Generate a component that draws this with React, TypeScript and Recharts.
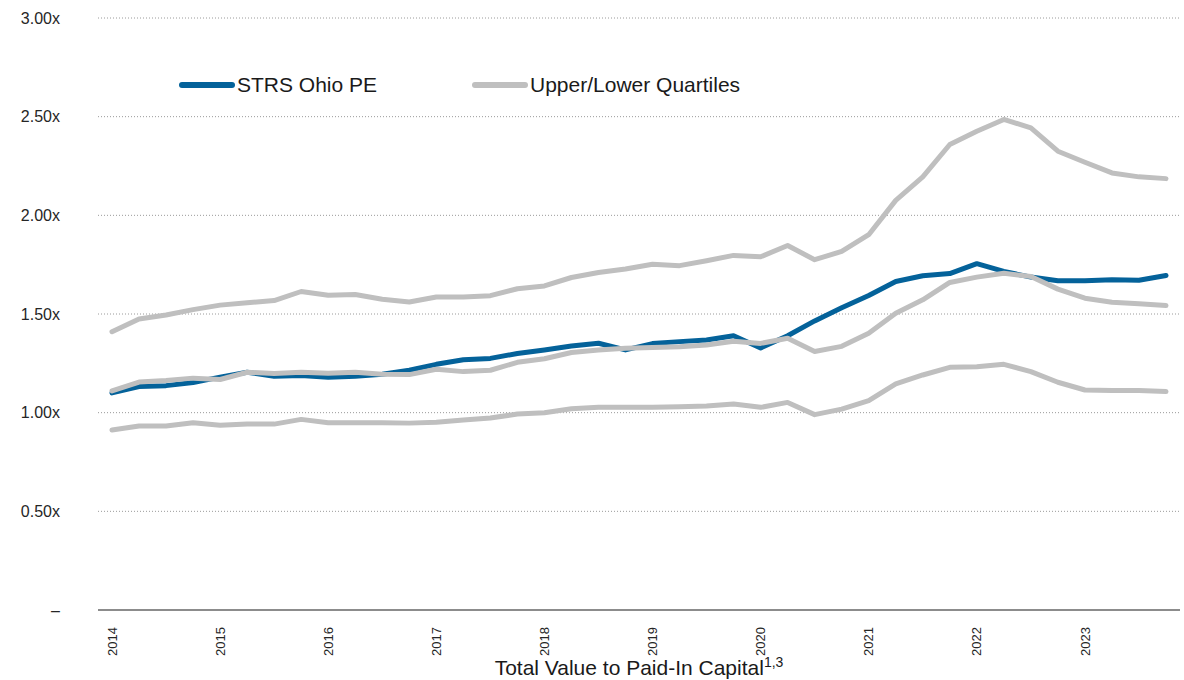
import { LineChart, Line, XAxis, YAxis, CartesianGrid, Legend } from "recharts";

const years = ["2014", "2015", "2016", "2017", "2018", "2019", "2020", "2021", "2022", "2023"];
const quarters = ["Q1", "Q2", "Q3", "Q4"];
const periods = years.flatMap((y) => quarters.map((q) => `${y} ${q}`));

const strsOhioPE = [
  1.1, 1.132, 1.137, 1.153, 1.18, 1.205, 1.185, 1.188, 1.18, 1.185,
  1.195, 1.215, 1.245, 1.268, 1.275, 1.3, 1.318, 1.338, 1.352, 1.318,
  1.35, 1.36, 1.368, 1.39, 1.328, 1.39, 1.465, 1.532, 1.594, 1.665,
  1.694, 1.705, 1.755, 1.716, 1.687, 1.668, 1.668, 1.674, 1.671, 1.695,
];

const upperQuartile = [
  1.41, 1.475, 1.495, 1.522, 1.545, 1.557, 1.568, 1.614, 1.595, 1.599,
  1.575, 1.561, 1.586, 1.586, 1.593, 1.628, 1.642, 1.685, 1.71, 1.728,
  1.752, 1.745, 1.77, 1.797, 1.79, 1.847, 1.775, 1.817, 1.902, 2.076,
  2.195, 2.359, 2.426, 2.486, 2.443, 2.325, 2.269, 2.215, 2.195, 2.186,
];

const medianLine = [
  1.11, 1.155, 1.163, 1.175, 1.168, 1.205, 1.198, 1.205, 1.2, 1.205,
  1.195, 1.193, 1.22, 1.208, 1.215, 1.255, 1.273, 1.305, 1.317, 1.326,
  1.33, 1.334, 1.343, 1.362, 1.351, 1.377, 1.31, 1.336, 1.403, 1.504,
  1.572, 1.66, 1.687, 1.707, 1.69, 1.626, 1.58, 1.56, 1.552, 1.543,
];

const lowerQuartile = [
  0.912, 0.932, 0.932, 0.949, 0.936, 0.942, 0.942, 0.966, 0.949, 0.949,
  0.949, 0.947, 0.951, 0.963, 0.973, 0.993, 1.0, 1.02, 1.027, 1.027,
  1.027, 1.03, 1.034, 1.044, 1.027, 1.052, 0.99, 1.018, 1.061, 1.146,
  1.191, 1.23, 1.233, 1.245, 1.208, 1.154, 1.115, 1.112, 1.112, 1.107,
];

const yTicks = [0, 0.5, 1, 1.5, 2, 2.5, 3];

const BLUE = "#04629A";
const GRAY = "#BFBFBF";
const FONT = "'Liberation Sans', Arial, sans-serif";

const legendItems = [
  { label: "STRS Ohio PE", color: BLUE, left: 0 },
  { label: "Upper/Lower Quartiles", color: GRAY, left: 293 },
];

const data = periods.map((p, i) => ({
  period: p,
  strs: strsOhioPE[i],
  upper: upperQuartile[i],
  mid: medianLine[i],
  lower: lowerQuartile[i],
}));

const YearTick = (props: any) => {
  const { x, y, payload } = props;
  const ty = y + 9;
  return (
    <text
      x={x}
      y={ty}
      dy="0.36em"
      transform={`rotate(-90, ${x}, ${ty})`}
      textAnchor="end"
      fontSize={13}
      fontFamily={FONT}
      fill="#262626"
    >
      {String(payload.value).slice(0, 4)}
    </text>
  );
};

const AxisTitle = (props: any) => {
  const { viewBox } = props;
  const cx = viewBox.x + viewBox.width / 2;
  return (
    <text x={cx} y={viewBox.y + 65} textAnchor="middle" fontFamily={FONT} fill="#1a1a1a">
      <tspan fontSize={21}>Total Value to Paid-In Capital</tspan>
      <tspan fontSize={14} dy={-8}>
        1,3
      </tspan>
    </text>
  );
};

// zero-height box so the legend does not push the plot down
const LegendBox = () => (
  <div style={{ position: "relative", height: 0, fontFamily: FONT }}>
    {legendItems.map((it) => (
      <div
        key={it.label}
        style={{
          position: "absolute",
          left: it.left,
          top: 0,
          display: "flex",
          alignItems: "center",
          height: 28,
          whiteSpace: "nowrap",
        }}
      >
        <svg width={56} height={10}>
          <line x1={3} y1={5} x2={53} y2={5} stroke={it.color} strokeWidth={6} strokeLinecap="round" />
        </svg>
        <span style={{ marginLeft: 2, fontSize: 21, color: "#1a1a1a", lineHeight: "28px" }}>
          {it.label}
        </span>
      </div>
    ))}
  </div>
);

export default function App() {
  return (
    <div style={{ position: "absolute", left: 0, top: 0, width: 1184, height: 680, background: "#fff" }}>
      <LineChart width={1184} height={680} data={data} margin={{ top: 18, right: 4, left: 0, bottom: 20 }}>
        <CartesianGrid vertical={false} stroke="#9A9A9A" strokeDasharray="1 2" />
        <XAxis
          dataKey="period"
          interval={3}
          height={50}
          tickLine={false}
          axisLine={{ stroke: "#8C8C8C", strokeWidth: 2 }}
          padding={{ left: 14, right: 14 }}
          tick={<YearTick />}
          label={{ content: <AxisTitle /> } as any}
        />
        <YAxis
          width={98}
          domain={[0, 3]}
          ticks={yTicks}
          axisLine={false}
          tickLine={false}
          tickMargin={32}
          tick={{ fill: "#262626", fontSize: 16, fontFamily: FONT }}
          tickFormatter={(v: number) => (v === 0 ? "–" : `${v.toFixed(2)}x`)}
        />
        <Legend
          verticalAlign="top"
          wrapperStyle={{ top: 71, left: 179, width: 700, height: 0 }}
          content={() => <LegendBox />}
        />
        <Line type="linear" dataKey="strs" stroke={BLUE} strokeWidth={5} dot={false} strokeLinecap="round" strokeLinejoin="round" isAnimationActive={false} />
        <Line type="linear" dataKey="upper" stroke={GRAY} strokeWidth={5} dot={false} strokeLinecap="round" strokeLinejoin="round" isAnimationActive={false} />
        <Line type="linear" dataKey="mid" stroke={GRAY} strokeWidth={5} dot={false} strokeLinecap="round" strokeLinejoin="round" isAnimationActive={false} />
        <Line type="linear" dataKey="lower" stroke={GRAY} strokeWidth={5} dot={false} strokeLinecap="round" strokeLinejoin="round" isAnimationActive={false} />
      </LineChart>
    </div>
  );
}
